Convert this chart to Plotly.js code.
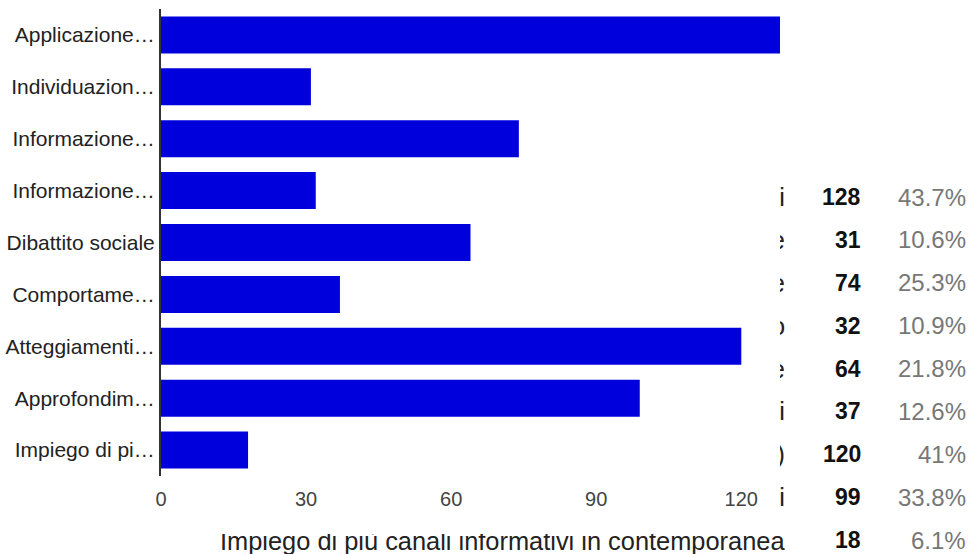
<!DOCTYPE html>
<html>
<head>
<meta charset="utf-8">
<script src="https://cdn.plot.ly/plotly-3.0.1.min.js"></script>
<style>
  html, body { margin: 0; padding: 0; background: #fff; }
  #chart { width: 970px; height: 554px; }
</style>
</head>
<body>
<div id="chart"></div>
<script>
// ---- data ----
var tickLabels = [
  "Applicazione\u2026",
  "Individuazion\u2026",
  "Informazione\u2026",
  "Informazione\u2026",
  "Dibattito sociale",
  "Comportame\u2026",
  "Atteggiamenti\u2026",
  "Approfondim\u2026",
  "Impiego di pi\u2026"
];
var fullLabels = [
  "Applicazione di buone pratiche nei comportamenti quotidiani",
  "Individuazione di comportamenti virtuosi da adottare",
  "Informazione sulle normative vigenti in materia ambientale",
  "Informazione sulle problematiche del territorio",
  "Dibattito sociale",
  "Comportamenti sostenibili nei consumi quotidiani",
  "Atteggiamenti critici (scelte consapevoli)",
  "Approfondimento di temi specifici",
  "Impiego di più canali informativi in contemporanea"
];
var counts = [128, 31, 74, 32, 64, 37, 120, 99, 18];
var percents = ["43.7%", "10.6%", "25.3%", "10.9%", "21.8%", "12.6%", "41%", "33.8%", "6.1%"];
var xTicks = [0, 30, 60, 90, 120];

// ---- layout geometry (pixels) ----
var W = 970, H = 554;
var mL = 161, mR = 190, mT = 9, mB = 78;
var plotW = W - mL - mR, plotH = H - mT - mB;
function px2paperX(px) { return (px - mL) / plotW; }
function px2paperY(py) { return (H - mB - py) / plotH; }

var idx = counts.map(function (c, i) { return i; });

var rowY0 = 197, rowStep = 42.875;
var FONT = 'Liberation Sans, Arial, sans-serif';
var annotations = [];
fullLabels.forEach(function (lab, i) {
  var ry = rowY0 + i * rowStep;
  var last = (i === fullLabels.length - 1);
  var a = {
    xref: 'paper', yref: 'paper',
    x: px2paperX(785), y: px2paperY(ry),
    xanchor: 'right', yanchor: 'middle',
    text: lab, showarrow: false, align: 'right',
    borderpad: 0, borderwidth: 0,
    font: {family: FONT, size: 25.4, color: '#222'}
  };
  if (!last) {
    a.width = 5;
  } else {
    // top of this row is hidden behind the chart area in the reference
    a.yanchor = 'bottom';
    a.y = px2paperY(ry + 14.5);
    a.height = ry + 14.5 - 534;
    a.valign = 'bottom';
  }
  annotations.push(a);
  annotations.push({
    xref: 'paper', yref: 'paper',
    x: px2paperX(861), y: px2paperY(ry),
    xanchor: 'right', yanchor: 'middle',
    text: '<b>' + counts[i] + '</b>', showarrow: false,
    borderpad: 0, borderwidth: 0,
    font: {family: FONT, size: 23, color: '#111'}
  });
  annotations.push({
    xref: 'paper', yref: 'paper',
    x: px2paperX(966), y: px2paperY(ry),
    xanchor: 'right', yanchor: 'middle',
    text: percents[i], showarrow: false,
    borderpad: 0, borderwidth: 0,
    font: {family: FONT, size: 24, color: '#777'}
  });
});

var trace = {
  type: 'bar',
  orientation: 'h',
  x: counts,
  y: idx,
  marker: {color: '#0000dc', line: {width: 0}},
  hoverinfo: 'none'
};

var layout = {
  width: W, height: H,
  margin: {l: mL, r: mR, t: mT, b: mB, pad: 0},
  paper_bgcolor: '#fff', plot_bgcolor: '#fff',
  showlegend: false,
  bargap: 0.287,
  font: {family: FONT},
  xaxis: {
    range: [0, 128],
    tickmode: 'array', tickvals: xTicks, ticktext: xTicks.map(String),
    showgrid: false, zeroline: false, showline: false, ticks: '',
    tickfont: {size: 20, color: '#444'},
    ticklabelstandoff: 9
  },
  yaxis: {
    range: [8.5, -0.5],
    tickmode: 'array', tickvals: idx, ticktext: tickLabels,
    showgrid: false, zeroline: false,
    showline: true, linecolor: '#333', linewidth: 2,
    ticks: '',
    tickfont: {size: 21, color: '#222'}
  },
  annotations: annotations
};

Plotly.newPlot('chart', [trace], layout, {displayModeBar: false, staticPlot: true});
</script>
</body>
</html>
